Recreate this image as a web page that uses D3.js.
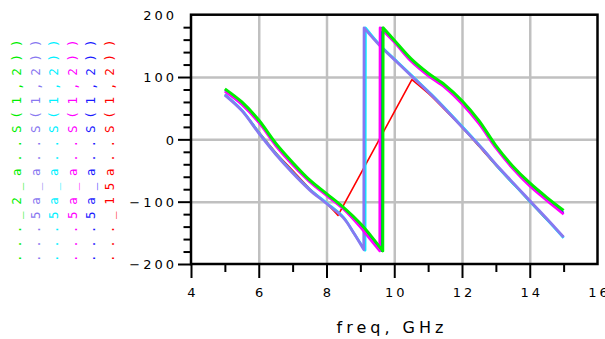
<!DOCTYPE html>
<html><head><meta charset="utf-8">
<script src="https://cdn.jsdelivr.net/npm/d3@7"></script>
<style>html,body{margin:0;padding:0;background:#fff;}svg{display:block;}</style>
</head><body>
<svg id="chart" width="605" height="339"></svg>
<script>
// ---- data ----
const legendLabels = ["..._2_a..S(1,2))", "...5a_a..S(1,2))", "...5a_a..S(1,2))", "...5a_a..S(1,2))", "...5a_a..S(1,2))", "..._15a..S(1,2))"];
const seriesColors = ["#00ee00", "#8878f0", "#00f0ff", "#ff00ff", "#1a1aff", "#ff0000"];
const xTickLabels = [4, 6, 8, 10, 12, 14, 16];
const yTickLabels = [200, 100, 0, -100, -200];

const freqGreen  = [5.0,5.5,6.0,6.5,7.0,7.5,8.0,8.5,9.0,9.3,9.66, 9.67,10.0,10.5,11.0,11.5,12.0,12.5,13.0,13.5,14.0,14.5,15.0];
const phaseGreen = [81,60,31,-6,-37,-65,-87,-109,-135,-154,-179, 179,159,129,106,87,62,30,-10,-43,-70,-93,-114];

const freqMagenta  = [5.0,5.5,6.0,6.5,7.0,7.5,8.0,8.5,9.0,9.3,9.57, 9.58,10.0,10.5,11.0,11.5,12.0,12.5,13.0,13.5,14.0,14.5,15.0];
const phaseMagenta = [77,56,27,-10,-41,-68,-90,-112,-141,-161,-179, 179,156,125,102,83,57,25,-14,-47,-75,-98,-120];

const freqBlue  = [5.0,5.5,6.0,6.5,7.0,7.5,8.0,8.5,9.0,9.3,9.62, 9.63,10.0,10.5,11.0,11.5,12.0,12.5,13.0,13.5,14.0,14.5,15.0];
const phaseBlue = [79,58,29,-8,-39,-67,-89,-111,-138,-157,-179, 179,157,127,104,85,60,28,-12,-45,-73,-96,-118];

const freqLavender  = [5.0,5.5,6.0,6.5,7.0,7.5,8.0,8.5,8.8,9.1, 9.11,9.6,10.1,10.6,11.1,11.6,12.1,12.6,13.1,13.6,14.1,14.6,15.0];
const phaseLavender = [71,46,10,-24,-54,-81,-103,-126,-150,-177, 179,149,123,97,71,43,14,-15,-46,-75,-104,-133,-157];

const freqCyan  = [5.0,5.5,6.0,6.5,7.0,7.5,8.0,8.5,8.8,9.14, 9.15,9.6,10.1,10.6,11.1,11.6,12.1,12.6,13.1,13.6,14.1,14.6,15.0];
const phaseCyan = [72,47,11,-23,-53,-80,-102,-125,-150,-178, 179,150,124,98,72,44,15,-15,-47,-76,-105,-134,-158];

const freqRed  = [5.0,5.5,6.0,6.5,7.0,7.5,8.0,8.34, 10.52,11.0,11.5,12.0,12.5,13.0,13.5,14.0,14.5,15.0];
const phaseRed = [72,47,12,-21,-50,-79,-103,-122, 96,74,47,19,-11,-42,-71,-100,-129,-156];

// ---- build ----
const series = [
  {f: freqRed, p: phaseRed, c: seriesColors[5], w: 1.6},
  {f: freqCyan, p: phaseCyan, c: seriesColors[2], w: 2.6},
  {f: freqLavender, p: phaseLavender, c: seriesColors[1], w: 2.8},
  {f: freqBlue, p: phaseBlue, c: seriesColors[4], w: 2},
  {f: freqMagenta, p: phaseMagenta, c: seriesColors[3], w: 2.6},
  {f: freqGreen, p: phaseGreen, c: seriesColors[0], w: 3}
];

const svg = d3.select("#chart");
const L = 191, R = 597.5, T = 14.7, B = 264;
const x = d3.scaleLinear().domain([4, 16]).range([L, R]);
const y = d3.scaleLinear().domain([-200, 200]).range([B, T]);

// grid
svg.append("g").attr("transform", `translate(0,${B})`)
  .call(d3.axisBottom(x).tickValues([6,8,10,12,14]).tickSize(-(B - T)).tickFormat(""))
  .call(g => g.select(".domain").remove())
  .call(g => g.selectAll("line").attr("stroke", "#c0c0c0").attr("stroke-width", 2.5));
svg.append("g").attr("transform", `translate(${L},0)`)
  .call(d3.axisLeft(y).tickValues([-100,0,100]).tickSize(-(R - L)).tickFormat(""))
  .call(g => g.select(".domain").remove())
  .call(g => g.selectAll("line").attr("stroke", "#c0c0c0").attr("stroke-width", 2.5));

// lines
const lineGen = d3.line().x(d => x(d[0])).y(d => y(d[1])).curve(d3.curveCatmullRom.alpha(0.5));
series.forEach(s => {
  const pts = s.f.map((f, i) => [f, s.p[i]]);
  const runs = [[pts[0]]];
  for (let i = 1; i < pts.length; i++) {
    if (Math.abs(pts[i][1] - pts[i-1][1]) > 180) runs.push([]);
    runs[runs.length - 1].push(pts[i]);
  }
  let d = "";
  runs.forEach((r, k) => {
    let seg = r.length > 1 ? lineGen(r) : `M${x(r[0][0])},${y(r[0][1])}`;
    if (k > 0) seg = "L" + seg.slice(1);
    d += seg;
  });
  svg.append("path").attr("d", d).attr("fill", "none")
    .attr("stroke", s.c).attr("stroke-width", s.w).attr("stroke-linejoin", "round");
});

// frame
svg.append("rect").attr("x", L).attr("y", T).attr("width", R - L).attr("height", B - T)
  .attr("fill", "none").attr("stroke", "#000").attr("stroke-width", 2.5);

// y ticks
const yMinor = d3.range(-180, 200, 20).filter(v => v % 100 !== 0);
svg.append("g").attr("transform", `translate(${L},0)`)
  .call(d3.axisLeft(y).tickValues(yMinor).tickSize(7.5).tickFormat(""))
  .call(g => g.select(".domain").remove())
  .call(g => g.selectAll("line").attr("stroke", "#000").attr("stroke-width", 2));
svg.append("g").attr("transform", `translate(${L},0)`)
  .call(d3.axisLeft(y).tickValues([-200,-100,0,100]).tickSize(13).tickFormat(""))
  .call(g => g.select(".domain").remove())
  .call(g => g.selectAll("line").attr("stroke", "#000").attr("stroke-width", 2));
svg.append("g").attr("transform", `translate(${L},0)`)
  .call(d3.axisLeft(y).tickValues(yTickLabels).tickSize(0).tickFormat(d => d < 0 ? "\u2212" + Math.abs(d) : d))
  .call(g => g.select(".domain").remove())
  .call(g => g.selectAll("text").attr("x", -14).attr("dy", "0.38em")
    .attr("font-family", "DejaVu Sans").attr("font-size", 13).attr("letter-spacing", 3).attr("fill", "#000"));

// x ticks
svg.append("g").attr("transform", `translate(0,${B})`)
  .call(d3.axisBottom(x).tickValues(d3.range(5, 16, 2)).tickSize(8).tickFormat(""))
  .call(g => g.select(".domain").remove())
  .call(g => g.selectAll("line").attr("stroke", "#000").attr("stroke-width", 2));
svg.append("g").attr("transform", `translate(0,${B})`)
  .call(d3.axisBottom(x).tickValues(d3.range(4, 15, 2)).tickSize(14).tickFormat(""))
  .call(g => g.select(".domain").remove())
  .call(g => g.selectAll("line").attr("stroke", "#000").attr("stroke-width", 2));
svg.append("g").attr("transform", `translate(0,${B})`)
  .call(d3.axisBottom(x).tickValues(xTickLabels).tickSize(0))
  .call(g => g.select(".domain").remove())
  .call(g => g.selectAll("text").attr("y", 33).attr("dy", 0).attr("dx", 1.5)
    .attr("font-family", "DejaVu Sans").attr("font-size", 13).attr("letter-spacing", 3).attr("fill", "#000"));

// axis title
svg.append("text").attr("x", 392).attr("y", 333).attr("text-anchor", "middle")
  .attr("font-family", "DejaVu Sans").attr("font-size", 16).attr("letter-spacing", 4)
  .attr("fill", "#000").text("freq, GHz");

// legend (rotated)
const legX = [21, 39.5, 58, 76.5, 95, 113.5];
legendLabels.forEach((t, i) => {
  svg.append("text").attr("transform", `translate(${legX[i]},262) rotate(-90)`)
    .attr("font-family", "DejaVu Sans Mono").attr("font-size", 12.5).attr("letter-spacing", 6.8)
    .attr("fill", seriesColors[i]).text(t);
});
</script>
</body></html>
